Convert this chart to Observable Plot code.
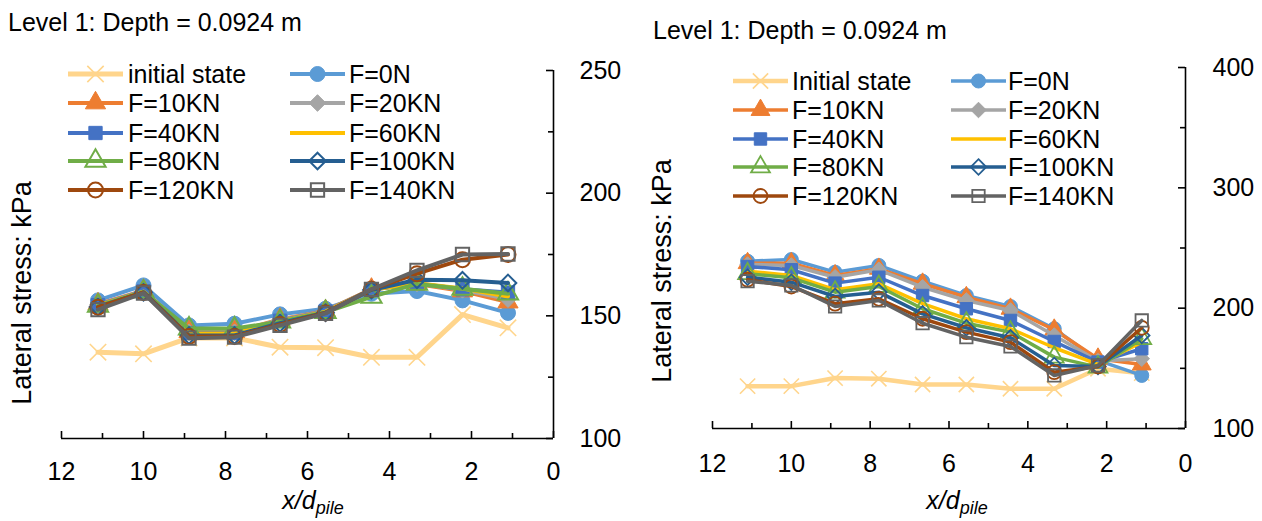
<!DOCTYPE html>
<html><head><meta charset="utf-8">
<script src="https://cdn.jsdelivr.net/npm/d3@7"></script>
<script src="https://cdn.jsdelivr.net/npm/@observablehq/plot@0.6"></script>
<style>
body{margin:0;background:#fff;}
#root{position:relative;width:1262px;height:521px;overflow:hidden;font-family:"Liberation Sans",Arial,sans-serif;color:#000;background:#fff;}
.abs{position:absolute;white-space:nowrap;}
svg.plot{position:absolute;top:0;}
</style></head><body><div id="root"></div>
<script>
// ---------------- data ----------------
const xPos = [11.11, 10.0, 8.89, 7.78, 6.67, 5.56, 4.44, 3.33, 2.22, 1.11];
const leftNames  = ["initial state","F=0N","F=10KN","F=20KN","F=40KN","F=60KN","F=80KN","F=100KN","F=120KN","F=140KN"];
const rightNames = ["Initial state","F=0N","F=10KN","F=20KN","F=40KN","F=60KN","F=80KN","F=100KN","F=120KN","F=140KN"];
const xMajor = [12, 10, 8, 6, 4, 2, 0];
const xMinor = [11, 9, 7, 5, 3, 1];
const leftYMajor = [100, 150, 200, 250];
const leftYMinor = [125, 175, 225];
const rightYMajor = [100, 200, 300, 400];
const rightYMinor = [150, 250, 350];

// left panel (kPa)
const L_init = [135.2, 134.5, 141.0, 141.0, 137.2, 137.0, 133.1, 133.1, 150.5, 145.1];
const L_F0   = [156.3, 162.4, 146.1, 146.8, 150.6, 152.9, 159.0, 160.1, 156.3, 151.2];
const L_F10  = [154.8, 160.3, 143.5, 143.5, 148.5, 152.0, 160.8, 163.0, 160.1, 155.6];
const L_F20  = [154.6, 160.2, 143.3, 143.3, 148.3, 151.9, 160.8, 163.2, 160.6, 156.8];
const L_F40  = [154.4, 160.0, 143.0, 143.0, 148.0, 151.8, 160.6, 163.3, 160.8, 159.5];
const L_F60  = [154.2, 159.9, 142.8, 142.8, 147.8, 151.7, 160.6, 163.3, 161.1, 157.9];
const L_F80  = [154.0, 159.8, 144.8, 144.8, 147.6, 151.5, 157.7, 163.0, 161.0, 159.0];
const L_F100 = [153.6, 159.6, 142.0, 142.0, 147.0, 151.3, 160.5, 164.7, 164.5, 163.4];
const L_F120 = [153.5, 159.5, 141.6, 141.6, 146.5, 151.2, 160.8, 167.2, 172.9, 175.0];
const L_F140 = [152.5, 159.3, 140.9, 141.3, 146.1, 151.0, 160.8, 168.5, 175.0, 175.2];

// right panel (kPa)
const R_init = [135.2, 135.2, 141.9, 141.4, 136.6, 136.6, 133.0, 133.0, 149.7, 146.0];
const R_F0   = [239.0, 240.4, 229.9, 235.5, 222.4, 210.5, 201.4, 182.9, 156.6, 144.1];
const R_F10  = [237.4, 237.4, 227.2, 232.7, 220.3, 209.1, 199.5, 182.1, 158.0, 153.2];
const R_F20  = [236.3, 235.5, 225.7, 231.9, 217.4, 206.4, 198.1, 177.3, 156.0, 158.0];
const R_F40  = [234.6, 231.9, 220.8, 225.7, 210.5, 199.5, 189.8, 172.3, 155.2, 166.3];
const R_F60  = [230.7, 227.2, 215.3, 220.3, 203.7, 191.2, 182.9, 167.1, 153.2, 171.8];
const R_F80  = [228.6, 225.2, 213.3, 218.0, 199.5, 187.5, 180.1, 159.3, 151.0, 174.6];
const R_F100 = [225.7, 221.6, 209.7, 213.3, 195.3, 183.7, 175.4, 152.4, 151.6, 177.3];
const R_F120 = [223.6, 218.0, 203.7, 207.8, 191.2, 180.1, 171.8, 146.8, 151.6, 183.7];
const R_F140 = [222.4, 218.9, 201.4, 206.4, 187.5, 175.9, 168.2, 144.1, 152.4, 189.8];

// ---------------- styles ----------------
const colors  = ["#ffd58c","#5b9bd5","#ed7d31","#a5a5a5","#4472c4","#ffc000","#70ad47","#255e91","#9e480e","#636363"];
const symbols = ["times","circle","triangle","diamond2","square",null,"triangle","diamond2","circle","square"];
const filled  = [false,true,true,true,true,false,false,false,false,false];
const d3sym = {times:d3.symbolTimes, circle:d3.symbolCircle, triangle:d3.symbolTriangle, diamond2:d3.symbolDiamond2, square:d3.symbolSquare};

const FONT = '"Liberation Sans", Arial, sans-serif';

const panels = [
  {left:0, width:631, values:[L_init,L_F0,L_F10,L_F20,L_F40,L_F60,L_F80,L_F100,L_F120,L_F140], names:leftNames,
   yDomain:[100,250], yMajor:leftYMajor, yMinor:leftYMinor, mL:61, mR:78, mT:70, mB:83, lw:4, lwInit:5, r:7.5, sw:2,
   xPad:24, yPad:26,
   title:{x:8, top:10}, ylab:{cx:22, cy:293}, xlab:{cx:313, base:508.5},
   legend:{rows:[74.3,103.3,132.5,161.3,190], cols:[{lx:68,lw:55,tx:128},{lx:290,lw:55,tx:349}]}},
  {left:631, width:631, values:[R_init,R_F0,R_F10,R_F20,R_F40,R_F60,R_F80,R_F100,R_F120,R_F140], names:rightNames,
   yDomain:[100,400], yMajor:rightYMajor, yMinor:rightYMinor, mL:81, mR:77, mT:67, mB:93, lw:3.5, lwInit:4.5, r:7, sw:1.8,
   xPad:26, yPad:27,
   title:{x:653, top:18}, ylab:{cx:662, cy:271}, xlab:{cx:957, base:509},
   legend:{rows:[81,110,138.5,167,196], cols:[{lx:733,lw:55,tx:792},{lx:951,lw:55,tx:1008}]}}
];

const root = document.getElementById("root");

for (const p of panels) {
  const y0 = p.yDomain[0];
  const marks = [
    Plot.ruleY([y0], {stroke:"#000", strokeWidth:1.6}),
    Plot.ruleX([0], {stroke:"#000", strokeWidth:1.6}),
    Plot.ruleX(xMajor, {x:d=>d, y1:y0, y2:y0, insetTop:-7, stroke:"#000", strokeWidth:1.6}),
    Plot.ruleX(xMinor, {x:d=>d, y1:y0, y2:y0, insetTop:-5, stroke:"#000", strokeWidth:1.6}),
    Plot.ruleY(p.yMajor, {y:d=>d, x1:0, x2:0, insetLeft:-7, stroke:"#000", strokeWidth:1.6}),
    Plot.ruleY(p.yMinor, {y:d=>d, x1:0, x2:0, insetLeft:-5, stroke:"#000", strokeWidth:1.6})
  ];
  p.values.forEach((vals, s) => {
    const data = vals.map((v, i) => ({x:xPos[i], y:v}));
    marks.push(Plot.line(data, {x:"x", y:"y", stroke:colors[s], strokeWidth: s===0 ? p.lwInit : p.lw, strokeLinejoin:"round"}));
    if (symbols[s]) {
      marks.push(Plot.dot(data, {x:"x", y:"y", symbol:symbols[s], r:p.r,
        fill: filled[s] ? colors[s] : "none", stroke: colors[s], strokeWidth: filled[s] ? 1 : (s===0 ? 1.6 : p.sw)}));
    }
  });
  const svg = Plot.plot({
    width:p.width, height:521,
    marginLeft:p.mL, marginRight:p.mR, marginTop:p.mT, marginBottom:p.mB,
    x:{domain:[12,0], ticks:xMajor, tickSize:0, tickPadding:p.xPad, label:null, tickFormat:d=>String(d)},
    y:{domain:p.yDomain, ticks:p.yMajor, axis:"right", tickSize:0, tickPadding:p.yPad, label:null, tickFormat:d=>String(d)},
    style:{fontFamily:FONT, fontSize:"25px", color:"#000", background:"transparent", overflow:"visible"},
    marks
  });
  svg.classList.add("plot");
  svg.style.left = p.left + "px";
  svg.style.position = "absolute";
  svg.style.top = "0px";
  root.appendChild(svg);

  // title
  const t = document.createElement("div");
  t.className = "abs";
  t.style.cssText += `left:${p.title.x}px;top:${p.title.top}px;font-size:25px;line-height:25px;`;
  t.textContent = "Level 1: Depth = 0.0924 m";
  root.appendChild(t);

  // y label
  const yl = document.createElement("div");
  yl.className = "abs";
  yl.style.cssText += `left:${p.ylab.cx}px;top:${p.ylab.cy}px;font-size:27px;line-height:27px;transform:translate(-50%,-50%) rotate(-90deg);`;
  yl.textContent = "Lateral stress: kPa";
  root.appendChild(yl);

  // x label
  const xl = document.createElement("div");
  xl.className = "abs";
  xl.style.cssText += `left:${p.xlab.cx}px;top:${p.xlab.base - 18}px;font-size:25px;line-height:18px;transform:translateX(-50%);font-style:italic;`;
  xl.innerHTML = 'x/d<span style="font-size:18px;position:relative;top:5px;">pile</span>';
  root.appendChild(xl);

  // legend
  p.names.forEach((name, s) => {
    const row = Math.floor(s / 2), col = s % 2;
    const cy = p.legend.rows[row];
    const c = p.legend.cols[col];
    const ls = d3.create("svg").attr("width", c.lw).attr("height", 30)
      .style("position","absolute").style("left", c.lx + "px").style("top", (cy - 15) + "px").style("overflow","visible");
    ls.append("line").attr("x1", 0).attr("x2", c.lw).attr("y1", 15).attr("y2", 15)
      .attr("stroke", colors[s]).attr("stroke-width", s===0 ? p.lwInit : p.lw);
    if (symbols[s]) {
      ls.append("path").attr("transform", `translate(${c.lw/2},15)`)
        .attr("d", d3.symbol(d3sym[symbols[s]], p.r*p.r*Math.PI)())
        .attr("fill", filled[s] ? colors[s] : "none").attr("stroke", colors[s])
        .attr("stroke-width", filled[s] ? 1 : (s===0 ? 1.6 : p.sw));
    }
    root.appendChild(ls.node());
    const tx = document.createElement("div");
    tx.className = "abs";
    tx.style.cssText += `left:${c.tx}px;top:${cy - 15}px;font-size:25px;line-height:30px;`;
    tx.textContent = name;
    root.appendChild(tx);
  });
}
</script></body></html>
